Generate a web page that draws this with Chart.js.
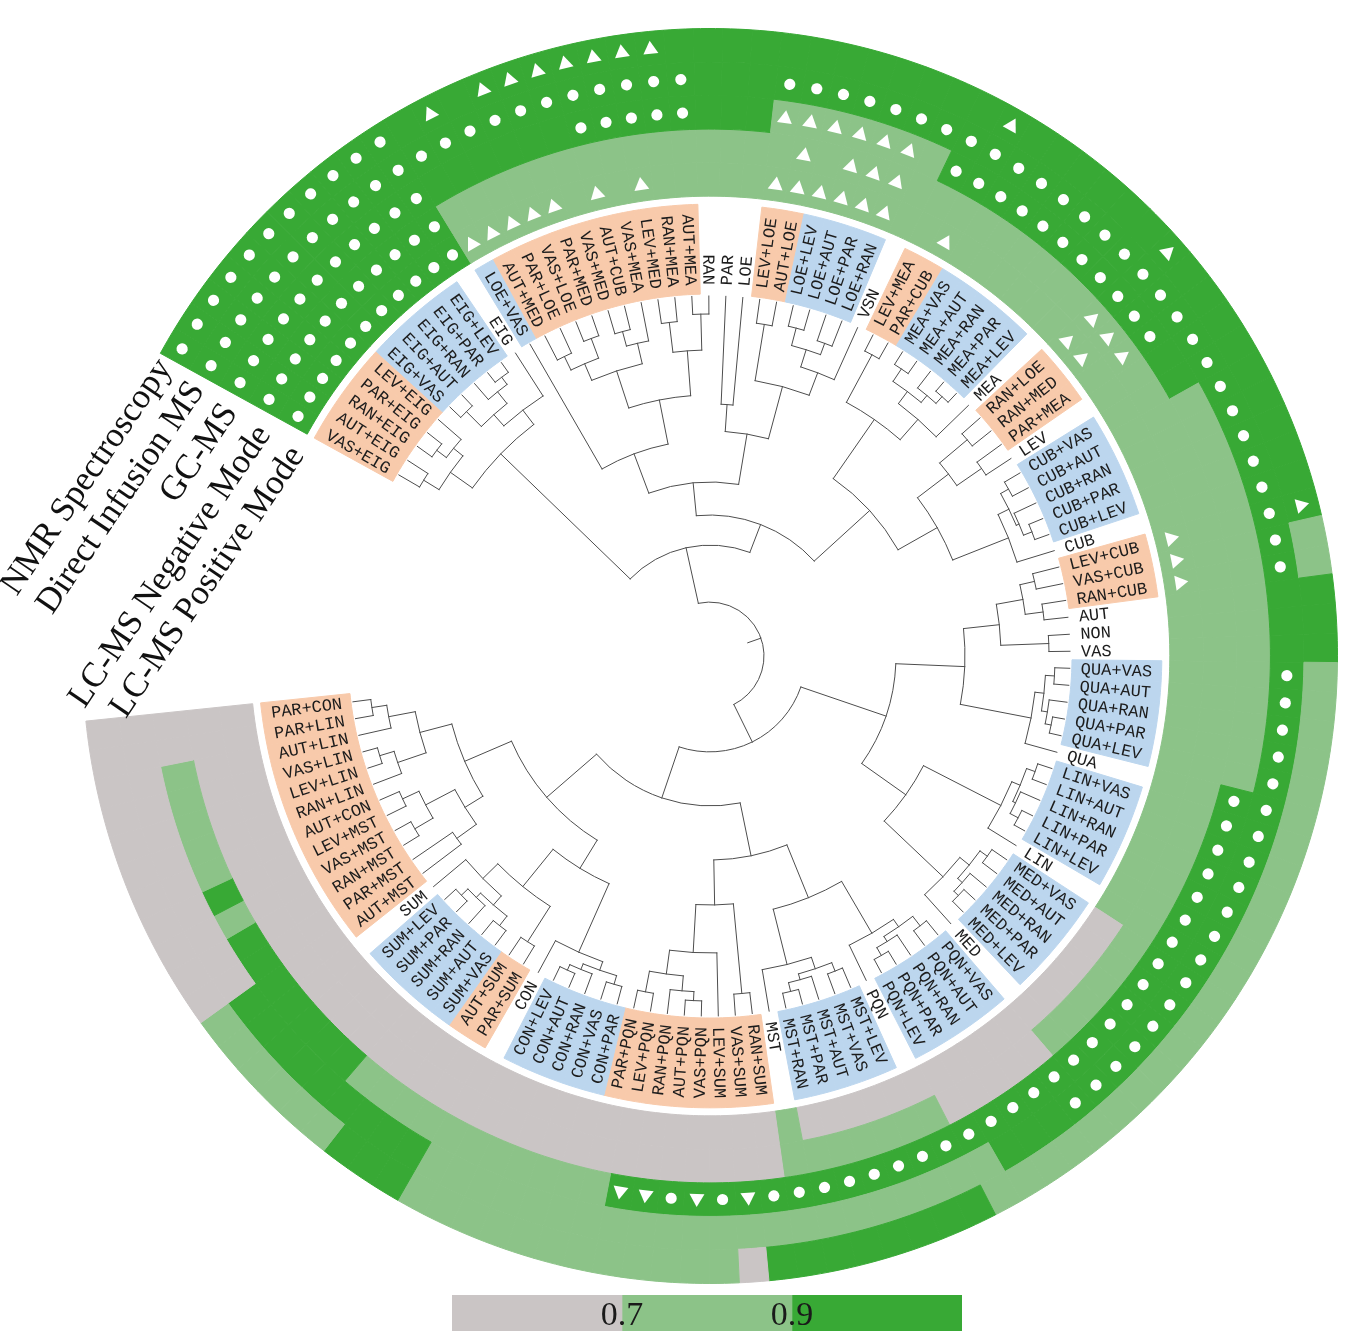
<!DOCTYPE html>
<html>
<head>
<meta charset="utf-8">
<title>Normalization methods: clustering and platform scores</title>
<script src="https://cdn.jsdelivr.net/npm/chart.js@4.4.1/dist/chart.umd.min.js"></script>
<style>
  html, body { margin: 0; padding: 0; background: #ffffff; }
  #stage { position: relative; width: 1346px; height: 1331px; overflow: hidden; }
  #wheel { position: absolute; left: 0; top: 0; }
  #key { position: absolute; left: 452px; top: 1295px; }
</style>
</head>
<body>
<div id="stage">
  <canvas id="wheel" width="1346" height="1331"></canvas>
  <canvas id="key" width="510" height="36"></canvas>
</div>
<script>
// Leaves of the dendrogram, clockwise from the upper-left end of the wheel
const leaves = [
  'VAS+EIG','AUT+EIG','RAN+EIG','PAR+EIG','LEV+EIG','EIG+VAS','EIG+AUT','EIG+RAN','EIG+PAR','EIG+LEV',
  'EIG','LOE+VAS','AUT+MED','PAR+LOE','VAS+LOE','PAR+MED','VAS+MED','AUT+CUB','VAS+MEA','LEV+MED',
  'RAN+MEA','AUT+MEA','RAN','PAR','LOE','LEV+LOE','AUT+LOE','LOE+LEV','LOE+AUT','LOE+PAR',
  'LOE+RAN','VSN','LEV+MEA','PAR+CUB','MEA+VAS','MEA+AUT','MEA+RAN','MEA+PAR','MEA+LEV','MEA',
  'RAN+LOE','RAN+MED','PAR+MEA','LEV','CUB+VAS','CUB+AUT','CUB+RAN','CUB+PAR','CUB+LEV','CUB',
  'LEV+CUB','VAS+CUB','RAN+CUB','AUT','NON','VAS','QUA+VAS','QUA+AUT','QUA+RAN','QUA+PAR',
  'QUA+LEV','QUA','LIN+VAS','LIN+AUT','LIN+RAN','LIN+PAR','LIN+LEV','LIN','MED+VAS','MED+AUT',
  'MED+RAN','MED+PAR','MED+LEV','MED','PQN+VAS','PQN+AUT','PQN+RAN','PQN+PAR','PQN+LEV','PQN',
  'MST+LEV','MST+VAS','MST+AUT','MST+PAR','MST+RAN','MST','RAN+SUM','VAS+SUM','LEV+SUM','VAS+PQN',
  'AUT+PQN','RAN+PQN','LEV+PQN','PAR+PQN','CON+PAR','CON+VAS','CON+RAN','CON+AUT','CON+LEV','CON',
  'PAR+SUM','AUT+SUM','SUM+VAS','SUM+AUT','SUM+RAN','SUM+PAR','SUM+LEV','SUM','AUT+MST','PAR+MST',
  'RAN+MST','VAS+MST','LEV+MST','AUT+CON','RAN+LIN','LEV+LIN','VAS+LIN','AUT+LIN','PAR+LIN','PAR+CON'
];

// Kind of method per leaf: 'o' = combined (orange), 'b' = combined (blue), '-' = single method
const leafKind = [
  'o','o','o','o','o','b','b','b','b','b',
  '-','b','o','o','o','o','o','o','o','o',
  'o','o','-','-','-','o','o','b','b','b',
  'b','-','o','o','b','b','b','b','b','-',
  'o','o','o','-','b','b','b','b','b','-',
  'o','o','o','-','-','-','b','b','b','b',
  'b','-','b','b','b','b','b','-','b','b',
  'b','b','b','-','b','b','b','b','b','-',
  'b','b','b','b','b','-','o','o','o','o',
  'o','o','o','o','b','b','b','b','b','-',
  'o','o','b','b','b','b','b','-','o','o',
  'o','o','o','o','o','o','o','o','o','o'
];

const platforms = ['NMR Spectroscopy', 'Direct Infusion MS', 'GC-MS', 'LC-MS Negative Mode', 'LC-MS Positive Mode'];

// Platform scores per leaf (same leaf order)
const nmr = [
  .95,.95,.95,.95,.95,.95,.95,.95,.95,.95,
  .95,.95,.95,.95,.95,.95,.95,.95,.95,.95,
  .95,.95,.95,.95,.95,.95,.95,.95,.95,.95,
  .95,.95,.95,.95,.95,.95,.95,.95,.95,.95,
  .95,.95,.95,.95,.95,.95,.95,.95,.95,.95,
  .95,.80,.80,.95,.95,.95,.80,.80,.80,.80,
  .80,.80,.80,.80,.80,.80,.80,.80,.80,.80,
  .80,.80,.80,.80,.80,.80,.80,.80,.80,.95,
  .95,.95,.95,.95,.95,.95,.95,.60,.80,.80,
  .80,.80,.80,.80,.80,.80,.80,.80,.80,.80,
  .95,.95,.95,.80,.80,.80,.80,.80,.80,.60,
  .60,.60,.60,.60,.60,.60,.60,.60,.60,.60
];
const directInfusion = [
  .95,.95,.95,.95,.95,.95,.95,.95,.95,.95,
  .95,.95,.95,.95,.95,.95,.95,.95,.95,.95,
  .95,.95,.95,.95,.95,.95,.95,.95,.95,.95,
  .95,.95,.95,.95,.95,.95,.95,.95,.95,.95,
  .95,.95,.95,.95,.95,.95,.95,.95,.95,.95,
  .95,.95,.95,.95,.95,.95,.95,.95,.95,.95,
  .95,.95,.95,.95,.95,.95,.95,.95,.95,.95,
  .95,.95,.95,.95,.95,.95,.95,.95,.80,.80,
  .80,.80,.80,.80,.80,.80,.80,.80,.80,.80,
  .80,.80,.80,.80,.80,.80,.80,.80,.80,.80,
  .95,.95,.95,.95,.95,.95,.95,.95,.95,.60,
  .60,.60,.60,.60,.60,.60,.60,.60,.60,.60
];
const gcms = [
  .95,.95,.95,.95,.95,.95,.95,.95,.95,.95,
  .95,.95,.95,.95,.95,.95,.95,.95,.95,.95,
  .95,.95,.95,.95,.95,.80,.80,.80,.80,.80,
  .80,.80,.95,.95,.95,.95,.95,.95,.95,.95,
  .95,.95,.95,.95,.95,.80,.80,.80,.80,.80,
  .80,.80,.80,.80,.80,.80,.80,.80,.80,.80,
  .80,.95,.95,.95,.95,.95,.95,.95,.95,.95,
  .95,.95,.95,.95,.95,.95,.95,.95,.95,.95,
  .95,.95,.95,.95,.95,.95,.95,.95,.95,.95,
  .95,.95,.95,.80,.80,.80,.80,.80,.80,.80,
  .80,.80,.80,.80,.95,.95,.95,.95,.95,.95,
  .95,.80,.95,.80,.80,.80,.80,.80,.60,.60
];
const lcmsNegative = [
  .95,.95,.95,.95,.95,.95,.95,.95,.95,.95,
  .95,.80,.80,.80,.80,.80,.80,.80,.80,.80,
  .80,.80,.80,.80,.80,.80,.80,.80,.80,.80,
  .80,.80,.80,.80,.80,.80,.80,.80,.80,.80,
  .80,.80,.80,.80,.80,.80,.80,.80,.80,.80,
  .80,.80,.80,.80,.80,.80,.80,.80,.80,.80,
  .80,.80,.80,.80,.80,.80,.80,.80,.80,.80,
  .80,.80,.80,.80,.60,.60,.60,.60,.60,.80,
  .80,.80,.80,.80,.80,.80,.60,.60,.60,.60,
  .60,.60,.60,.60,.60,.60,.60,.60,.60,.60,
  .60,.60,.60,.60,.60,.60,.60,.60,.60,.60,
  .60,.60,.60,.60,.60,.60,.60,.60,.60,.60
];
const lcmsPositive = [
  .95,.95,.95,.95,.95,.95,.95,.95,.95,.95,
  .95,.80,.80,.80,.80,.80,.80,.80,.80,.80,
  .80,.80,.80,.80,.80,.80,.80,.80,.80,.80,
  .80,.80,.80,.80,.80,.80,.80,.80,.80,.80,
  .80,.80,.80,.80,.80,.80,.80,.80,.80,.80,
  .80,.80,.80,.80,.80,.80,.80,.80,.80,.80,
  .80,.80,.80,.80,.80,.80,.80,.80,.60,.60,
  .60,.60,.60,.60,.60,.60,.60,.60,.60,.60,
  .60,.60,.60,.60,.60,.80,.60,.60,.60,.60,
  .60,.60,.60,.60,.60,.60,.60,.60,.60,.60,
  .60,.60,.60,.60,.60,.60,.60,.60,.60,.60,
  .60,.60,.60,.60,.60,.60,.60,.60,.60,.60
];

// Symbols per leaf: 'c' = circle, 't' = triangle, '.' = none
const nmrMarks = ['cccccccccc','c.t.tttttt','t.........','...t......','t.........','t.........',
                  '..........','..........','..........','..........','..........','..........'].join('');
const directInfusionMarks = ['cccccccccc','cccccccccc','cc...ccccc','cccccccccc','cccccccccc','ccc...cccc',
                  'cccccccccc','ccccc.....','..........','..........','..........','..........'].join('');
const gcmsMarks = ['cccccccccc','c......ccc','cc...ttttt','t.cccccccc','ccc.......','..........',
                  '.ccccccccc','cccccccccc','ccccccctct','ctt.......','..........','..........'].join('');
const lcmsNegativeMarks = ['cccccccccc','c.........','......t.tt','t.........','ttt.......','..........',
                  '..........','..........','..........','..........','..........','..........'].join('');
const lcmsPositiveMarks = ['cccccccccc','cttttt.t.t','.....ttttt','t..t......','tt........','ttt.......',
                  '..........','..........','..........','..........','..........','..........'].join('');

// Score classes and the colour key
const scoreBreaks = [0.7, 0.9];
const keyRange = [0.5, 1.1];

// Hierarchical clustering: [merge height, child, child, ...]; numbers are leaf positions (1 = first leaf)
const dendrogram =
[1.02,
  [0.83,
    [0.23, [0.14, [0.08, 1, 2], [0.10, [0.06, 3, 4], 5]], [0.17, [0.12, [0.05, 6, 7], [0.07, 8, [0.04, 9, 10]]], 11]],
    [0.73,
      [0.62,
        [0.48, 12, [0.33, [0.20, [0.14, [0.09, 13, 14], [0.07, 15, 16]], [0.13, [0.08, 17, 18], 19]], [0.18, [0.08, 20, 21], [0.06, 22, 23]]]],
        [0.45, [0.36, 24, 25], [0.27, [0.08, 26, 27], [0.19, [0.13, [0.07, 28, 29], [0.09, 30, 31]], 32]]]],
      [0.48,
        [0.24, [0.06, 33, 34], [0.15, [0.10, [0.05, 35, 36], [0.07, 37, [0.04, 38, 39]]], 40]],
        [0.33, [0.20, [0.08, 41, 42], [0.10, 43, 44]], [0.13, [0.09, [0.06, 45, 46], [0.08, 47, [0.05, 48, 49]]], 50]]]]],
  [0.88,
    [0.58,
      [0.35, [0.23, [0.14, [0.09, 51, 52], [0.08, 53, 54]], [0.07, 55, 56]], [0.11, [0.08, [0.05, 57, 58], [0.06, 59, [0.04, 60, 61]]], 62]],
      [0.40, [0.11, [0.08, [0.05, 63, 64], [0.07, 65, [0.04, 66, 67]]], 68], [0.13, [0.09, [0.06, 69, 70], [0.07, 71, [0.05, 72, 73]]], 74]]],
    [0.70,
      [0.52,
        [0.33, [0.13, [0.10, [0.06, 75, 76], [0.08, 77, [0.05, 78, 79]]], 80], [0.14, [0.10, [0.07, 81, 82], [0.08, 83, [0.05, 84, 85]]], 86]],
        [0.37, [0.21, [0.13, [0.06, 94, 93], [0.08, 92, [0.05, 91, 90]]], 89], [0.07, 88, 87]]],
      [0.48,
        [0.37, [0.12, [0.09, [0.06, 95, 96], [0.07, 97, [0.05, 98, 99]]], 100], [0.21, [0.07, 101, 102], [0.14, [0.10, [0.06, 103, 104], [0.08, 105, [0.05, 106, 107]]], 108]]],
        [0.31, [0.20, [0.11, [0.06, 120, 119], 118], [0.10, [0.05, 117, 116], 115]], [0.24, [0.13, [0.07, 114, 113], [0.06, 112, 111]], [0.16, 110, 109]]]]]]];

// ---------- styling and layout ----------
const GREY = '#cac5c5', LIGHT = '#8cc388', DARK = '#38a935';
const ORANGE = '#f8caab', BLUE = '#bcd6ee', NONE = 'rgba(0,0,0,0)';
const GAP_SLOTS = 12.84;     // empty wedge (in leaf widths) that carries the platform names
const RING_W = 33.6, SPACER_W = 8, BOX_W = 90;
const HOLE = 362;            // inner edge of the label boxes
const TIP_R = 360;           // where leaf branches end
const LABEL_R = 371;         // where leaf names start
const HEIGHT_PX = 300;       // radial pixels per unit of merge height

function scoreColor(v) { return v >= scoreBreaks[1] ? DARK : (v >= scoreBreaks[0] ? LIGHT : GREY); }
const slots = leaves.map(() => 1).concat([GAP_SLOTS]);

const ringValues = [nmr, directInfusion, gcms, lcmsNegative, lcmsPositive];
const ringMarks = [nmrMarks, directInfusionMarks, gcmsMarks, lcmsNegativeMarks, lcmsPositiveMarks];

const datasets = ringValues.map((vals, k) => {
  const c = vals.map(scoreColor).concat([NONE]);
  return { label: platforms[k], data: slots, backgroundColor: c, borderColor: c, borderWidth: 1, weight: RING_W, hoverOffset: 0, offset: 0 };
});
datasets.push({ label: 'spacer', data: slots, backgroundColor: NONE, borderColor: NONE, borderWidth: 0, weight: SPACER_W, hoverOffset: 0, offset: 0 });
const boxColors = leafKind.map(k => k === 'o' ? ORANGE : (k === 'b' ? BLUE : NONE)).concat([NONE]);
datasets.push({ label: 'groups', data: slots, backgroundColor: boxColors, borderColor: boxColors, borderWidth: 1, weight: BOX_W, hoverOffset: 0, offset: 0 });

function polar(cx, cy, r, a) { return [cx + r * Math.cos(a), cy + r * Math.sin(a)]; }

const wheelDecor = {
  id: 'wheelDecor',
  afterDatasetsDraw(chart) {
    const ctx = chart.ctx;
    const arcs0 = chart.getDatasetMeta(0).data;
    const cx = arcs0[0].x, cy = arcs0[0].y;
    const ang = leaves.map((_, i) => (arcs0[i].startAngle + arcs0[i].endAngle) / 2);

    // dendrogram
    ctx.save();
    ctx.strokeStyle = '#4d4d4d';
    ctx.lineWidth = 1;
    ctx.lineCap = 'square';
    function walk(node) {
      if (typeof node === 'number') return { a: ang[node - 1], r: TIP_R };
      const r = TIP_R - node[0] * HEIGHT_PX;
      const kids = node.slice(1).map(walk);
      const as = kids.map(k => k.a);
      const a0 = Math.min(...as), a1 = Math.max(...as);
      ctx.beginPath(); ctx.arc(cx, cy, r, a0, a1); ctx.stroke();
      kids.forEach(k => {
        const p = polar(cx, cy, r, k.a), q = polar(cx, cy, k.r, k.a);
        ctx.beginPath(); ctx.moveTo(p[0], p[1]); ctx.lineTo(q[0], q[1]); ctx.stroke();
      });
      return { a: (a0 + a1) / 2, r };
    }
    const top = walk(dendrogram);
    const s0 = polar(cx, cy, top.r, top.a), s1 = polar(cx, cy, top.r - 14, top.a);
    ctx.beginPath(); ctx.moveTo(s0[0], s0[1]); ctx.lineTo(s1[0], s1[1]); ctx.stroke();
    ctx.restore();

    // leaf names
    ctx.save();
    ctx.font = '17px "Liberation Mono", "DejaVu Sans Mono", monospace';
    ctx.fillStyle = '#1c1c1c';
    ctx.textBaseline = 'middle';
    leaves.forEach((name, i) => {
      const a = ang[i];
      ctx.save();
      ctx.translate(cx, cy);
      if (Math.cos(a) >= 0) { ctx.rotate(a); ctx.textAlign = 'left'; ctx.fillText(name, LABEL_R, 1); }
      else { ctx.rotate(a + Math.PI); ctx.textAlign = 'right'; ctx.fillText(name, -LABEL_R, 1); }
      ctx.restore();
    });
    ctx.restore();

    // significance symbols on the rings
    ctx.save();
    ctx.fillStyle = '#ffffff';
    ringMarks.forEach((marks, k) => {
      const arcs = chart.getDatasetMeta(k).data;
      leaves.forEach((_, i) => {
        const m = marks[i];
        if (m === '.') return;
        const el = arcs[i];
        const rm = (el.innerRadius + el.outerRadius) / 2;
        const a = (el.startAngle + el.endAngle) / 2;
        ctx.save();
        ctx.translate(cx, cy);
        ctx.rotate(a);
        ctx.beginPath();
        if (m === 'c') {
          ctx.arc(rm, 0, 5.6, 0, Math.PI * 2);
        } else {
          ctx.moveTo(rm + 7.5, 0);
          ctx.lineTo(rm - 5.5, -7.5);
          ctx.lineTo(rm - 5.5, 7.5);
          ctx.closePath();
        }
        ctx.fill();
        ctx.restore();
      });
    });
    ctx.restore();

    // platform names in the open wedge
    ctx.save();
    ctx.font = '35px "Liberation Serif", "DejaVu Serif", serif';
    ctx.fillStyle = '#111111';
    ctx.textAlign = 'right';
    ctx.textBaseline = 'middle';
    platforms.forEach((t, k) => {
      const r = 619 - k * 39.5;
      const a = (208.3 - k * 0.45) * Math.PI / 180;
      const p = polar(cx, cy, r, a);
      ctx.save();
      ctx.translate(p[0], p[1]);
      ctx.rotate(-55.8 * Math.PI / 180);
      ctx.fillText(t, 0, 0);
      ctx.restore();
    });
    ctx.restore();
  }
};

new Chart(document.getElementById('wheel'), {
  type: 'doughnut',
  data: { labels: leaves.concat(['']), datasets },
  options: {
    responsive: false,
    maintainAspectRatio: false,
    devicePixelRatio: 1,
    animation: false,
    events: [],
    rotation: -61.16,
    circumference: 360,
    cutout: HOLE,
    layout: { padding: { left: 82, top: 28, right: 8, bottom: 47 } },
    plugins: { legend: { display: false }, tooltip: { enabled: false } }
  },
  plugins: [wheelDecor]
});

// colour key
const keyBands = [[keyRange[0], scoreBreaks[0]], [scoreBreaks[0], scoreBreaks[1]], [scoreBreaks[1], keyRange[1]]];
const keyColors = [GREY, LIGHT, DARK];
new Chart(document.getElementById('key'), {
  type: 'bar',
  data: {
    labels: ['score'],
    datasets: keyBands.map((b, k) => ({ data: [b], backgroundColor: keyColors[k], borderWidth: 0, grouped: false, barPercentage: 1, categoryPercentage: 1 }))
  },
  options: {
    indexAxis: 'y',
    responsive: false,
    maintainAspectRatio: false,
    devicePixelRatio: 1,
    animation: false,
    events: [],
    layout: { padding: 0 },
    scales: {
      x: { type: 'linear', min: keyRange[0], max: keyRange[1], display: false },
      y: { display: false }
    },
    plugins: { legend: { display: false }, tooltip: { enabled: false } }
  },
  plugins: [{
    id: 'keyTicks',
    afterDatasetsDraw(chart) {
      const ctx = chart.ctx;
      ctx.save();
      ctx.font = '34px "Liberation Serif", "DejaVu Serif", serif';
      ctx.fillStyle = '#1a1a1a';
      ctx.textBaseline = 'alphabetic';
      ctx.textAlign = 'left';
      scoreBreaks.forEach(v => {
        const x = chart.scales.x.getPixelForValue(v);
        const t = v.toFixed(1);
        const w0 = ctx.measureText(t.slice(0, 1)).width;
        const wd = ctx.measureText('.').width;
        ctx.fillText(t, x - w0 - wd / 2, 30);
      });
      ctx.restore();
    }
  }]
});
</script>
</body>
</html>
